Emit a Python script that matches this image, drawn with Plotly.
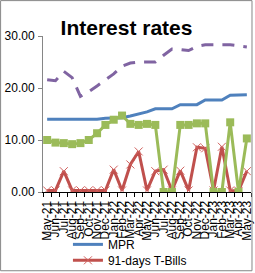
import plotly.graph_objects as go

months = ["May-21","Jun-21","Jul-21","Aug-21","Sep-21","Oct-21","Nov-21","Dec-21",
          "Jan-22","Feb-22","Mar-22","Apr-22","May-22","Jun-22","Jul-22","Aug-22",
          "Sep-22","Oct-22","Nov-22","Dec-22","Jan-23","Feb-23","Mar-23","Apr-23","May-23"]

mpr = [14.0,14.0,14.0,14.0,14.0,14.0,14.0,14.2,14.2,14.3,14.6,15.0,15.4,16.0,16.0,16.0,
       16.8,16.8,16.8,17.7,17.7,17.7,18.6,18.6,18.7]
tbill91 = [0.3,0.3,4.0,0.3,0.3,0.3,0.3,0.3,4.3,0.3,5.3,7.8,0.3,4.0,4.3,0.3,
           4.1,0.3,8.6,8.4,0.3,8.7,0.3,0.2,4.0]
series3 = [10.0,9.5,9.4,9.2,9.4,10.0,11.3,12.9,13.9,14.7,13.1,12.9,13.1,12.9,0.0,0.0,
           12.9,12.9,13.2,13.2,0.0,0.0,13.4,0.0,10.3]
series4 = [21.6,21.4,23.2,22.0,18.4,19.3,20.4,21.5,22.7,24.2,24.8,25.0,25.0,25.0,26.3,27.5,
           27.4,27.2,28.0,28.3,28.3,28.3,28.3,28.1,27.9]

W, H = 255, 273
L, R, T, B = 43, 251.5, 36, 192.5

fig = go.Figure()
fig.add_trace(go.Scatter(x=months, y=mpr, name="MPR", mode="lines",
                         legend="legend",
                         line=dict(color="#4F81BD", width=3)))
fig.add_trace(go.Scatter(x=months, y=tbill91, name="91-days T-Bills", mode="lines+markers",
                         legend="legend2",
                         line=dict(color="#C0504D", width=3),
                         marker=dict(symbol="x-thin", size=8,
                                     line=dict(color="#D0605D", width=1))))
fig.add_trace(go.Scatter(x=months, y=series3, name="182-days T-Bills", mode="lines+markers",
                         showlegend=False,
                         line=dict(color="#9BBB59", width=3),
                         marker=dict(symbol="square", size=8, color="#9BBB59")))
fig.add_trace(go.Scatter(x=months, y=series4, name="Lending rate", mode="lines",
                         showlegend=False,
                         line=dict(color="#8064A2", width=3, dash="12px,9px")))

pw, ph = R - L, B - T
def px(x): return (x - L) / pw
def py(y): return (B - y) / ph

leg_common = dict(xref="paper", yref="paper", xanchor="left", yanchor="top",
                  bgcolor="rgba(0,0,0,0)", font=dict(size=12), borderwidth=0)

fig.update_layout(
    width=W, height=H,
    margin=dict(l=L, r=W - R, t=T, b=H - B, pad=0, autoexpand=False),
    paper_bgcolor="white", plot_bgcolor="white",
    font=dict(family="Liberation Sans", size=12, color="black"),
    title=dict(text="<b>Interest rates</b>", font=dict(size=21, color="black"),
               x=126.5 / W, xanchor="center", xref="container",
               y=1 - 28 / H, yanchor="middle", yref="container"),
    showlegend=True,
    legend=dict(x=px(68), y=py(230.5), **leg_common),
    legend2=dict(x=px(68), y=py(246.5), **leg_common),
    xaxis=dict(type="category", tickmode="linear", dtick=1, tick0=0,
               tickangle=-90, ticks="outside", ticklen=4, tickson="boundaries",
               ticklabelstandoff=3,
               tickcolor="black", showline=True, linecolor="black", linewidth=1,
               showgrid=False, zeroline=False, automargin=False,
               range=[-0.5, len(months) - 0.5], tickfont=dict(size=12)),
    yaxis=dict(range=[0, 30], dtick=10, tickformat=".2f", ticks="outside", ticklen=4,
               tickcolor="#868686", showline=True, linecolor="#868686", linewidth=1,
               ticklabelstandoff=1,
               showgrid=False, zeroline=False, automargin=False, tickfont=dict(size=12)),
    shapes=[dict(type="rect", xref="paper", yref="paper",
                 x0=px(0.5), x1=px(252.5), y0=py(271.5), y1=py(0.5),
                 line=dict(color="#868686", width=1), fillcolor="rgba(0,0,0,0)",
                 layer="above")],
)

fig.write_html("out.html")
